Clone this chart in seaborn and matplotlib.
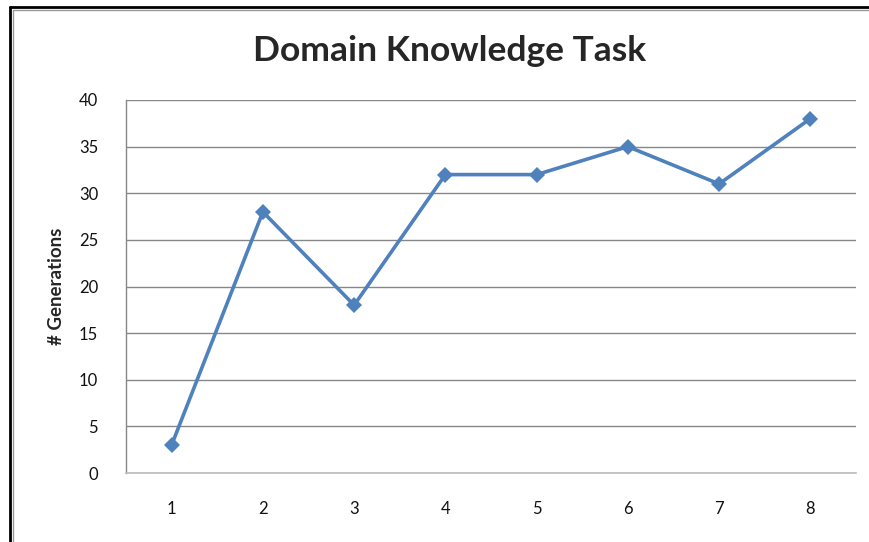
import matplotlib
matplotlib.use("Agg")
import matplotlib.pyplot as plt
from matplotlib.lines import Line2D
import seaborn as sns
import pandas as pd

# data
runs = [1, 2, 3, 4, 5, 6, 7, 8]
generations = [3, 28, 18, 32, 32, 35, 31, 38]
y_ticks = [0, 5, 10, 15, 20, 25, 30, 35, 40]

df = pd.DataFrame({"run": runs, "generations": generations})

sns.set_style("white")
plt.rcParams['font.family'] = ['Lato', 'DejaVu Sans']

W, H = 870, 542
fig = plt.figure(figsize=(W / 100, H / 100), dpi=100)
ax = fig.add_axes([126 / W, 1 - 473 / H, (856 - 126) / W, (473 - 100) / H])

sns.lineplot(data=df, x="run", y="generations", ax=ax, color="#4F81BD",
             linewidth=2.6, marker="D", markersize=8.5, markeredgewidth=0)

ax.set_xlim(0.5, 8.5)
ax.set_ylim(0, 40)
ax.set_xticks(runs)
ax.set_yticks(y_ticks)
ax.tick_params(axis="both", length=0, labelsize=12, colors="#111111")
ax.tick_params(axis="x", pad=20)
ax.tick_params(axis="y", pad=20)
ax.grid(axis="y", color="#878787", linewidth=1)
ax.set_axisbelow(True)
for s in ["top", "right"]:
    ax.spines[s].set_visible(False)
ax.spines["left"].set_color("#878787")
ax.spines["bottom"].set_color("#BEBEBE")
ax.spines["left"].set_linewidth(1)
ax.spines["bottom"].set_linewidth(1.2)

ax.set_xlabel("")
ax.set_ylabel("# Generations", fontsize=13.5, fontweight="bold")
ax.yaxis.set_label_coords(-0.084, 0.5)

fig.text(450 / W, 1 - 51 / H, "Domain Knowledge Task", ha="center", va="center",
         fontsize=25.5, fontweight="bold")

# outer frame like the copied Excel chart
fig.add_artist(Line2D([10 / W, 1], [1 - 7 / H, 1 - 7 / H], color="black", linewidth=2))
fig.add_artist(Line2D([10 / W, 10 / W], [0, 1 - 7 / H], color="black", linewidth=2))
fig.add_artist(Line2D([13 / W, 1], [1 - 10 / H, 1 - 10 / H], color="#999999", linewidth=1))
fig.add_artist(Line2D([13 / W, 13 / W], [0, 1 - 10 / H], color="#999999", linewidth=1))

fig.savefig("out.png", dpi=100)
